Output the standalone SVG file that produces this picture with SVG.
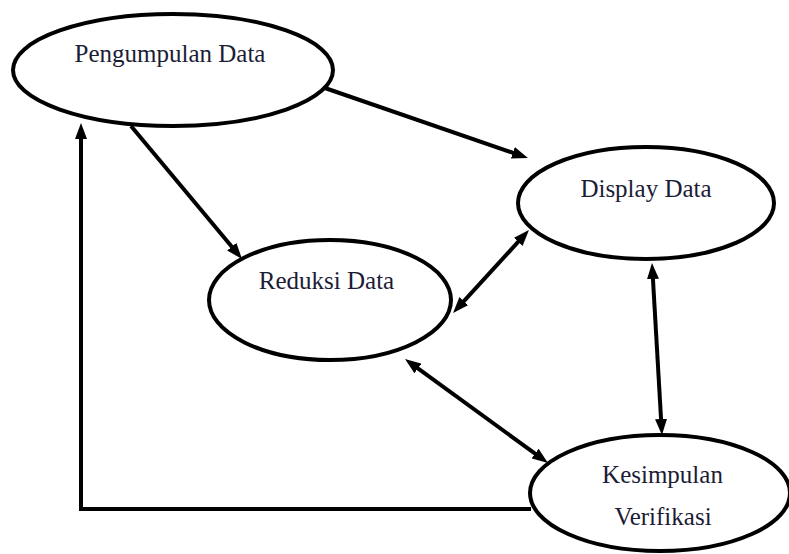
<svg xmlns="http://www.w3.org/2000/svg" width="789" height="554" viewBox="0 0 789 554">
  <style>
    .node ellipse { fill: #ffffff; stroke: #000000; stroke-width: 4; }
    .node text { font-family: "Liberation Serif", "Times New Roman", serif; font-size: 25px; fill: #1c1c36; text-anchor: middle; }
    .edge { fill: none; stroke: #000000; stroke-width: 4; stroke-linejoin: miter; }
  </style>
  <defs>
    <marker id="arrow" viewBox="0 0 16 12" markerUnits="userSpaceOnUse" markerWidth="16" markerHeight="12" refX="6" refY="6" orient="auto-start-reverse">
      <path d="M0,0 L16,6 L0,12 z" fill="#000000"/>
    </marker>
  </defs>
  <rect width="789" height="554" fill="#ffffff"/>

  <!-- connectors -->
  <g id="connectors">
    <line class="edge" x1="322" y1="87" x2="518.5" y2="154.7" marker-end="url(#arrow)"/>
    <line class="edge" x1="131" y1="126" x2="235.6" y2="251.3" marker-end="url(#arrow)"/>
    <line class="edge" x1="459.8" y1="305.6" x2="522.2" y2="237.4" marker-start="url(#arrow)" marker-end="url(#arrow)"/>
    <line class="edge" x1="413.1" y1="364.9" x2="539.9" y2="457.1" marker-start="url(#arrow)" marker-end="url(#arrow)"/>
    <line class="edge" x1="652.6" y1="273" x2="661.4" y2="425" marker-start="url(#arrow)" marker-end="url(#arrow)"/>
    <path class="edge" d="M531,509 H81 V133" marker-end="url(#arrow)"/>
  </g>

  <!-- nodes -->
  <g id="pengumpulan" class="node">
    <ellipse cx="173" cy="70" rx="160" ry="56"/>
    <text x="170" y="62">Pengumpulan Data</text>
  </g>
  <g id="display" class="node">
    <ellipse cx="646" cy="203" rx="128" ry="56"/>
    <text x="646" y="197">Display Data</text>
  </g>
  <g id="reduksi" class="node">
    <ellipse cx="330" cy="300" rx="121" ry="60"/>
    <text x="326.5" y="289">Reduksi Data</text>
  </g>
  <g id="kesimpulan" class="node">
    <ellipse cx="660" cy="493" rx="130" ry="58"/>
    <text x="662.5" y="483">Kesimpulan</text>
    <text x="663" y="525">Verifikasi</text>
  </g>
</svg>
